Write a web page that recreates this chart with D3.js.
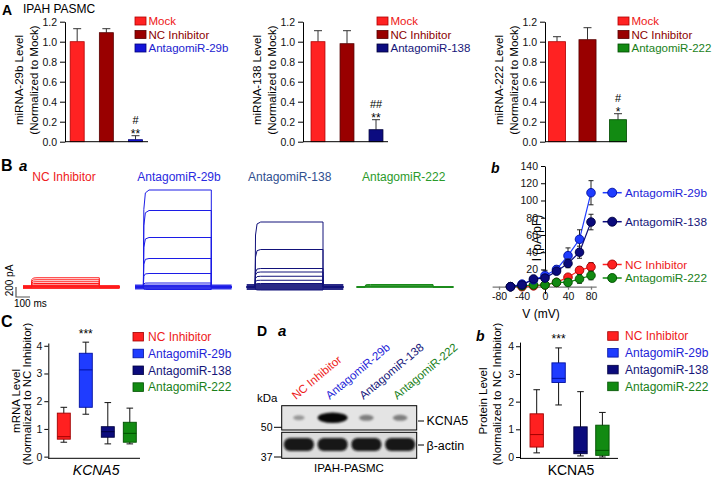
<!DOCTYPE html>
<html><head><meta charset="utf-8">
<script src="https://cdn.jsdelivr.net/npm/d3@7"></script>
<style>
body{margin:0;background:#fff;}
svg{display:block;font-family:Arial,"Liberation Sans",Helvetica,sans-serif;}
</style></head><body>
<svg id="fig" width="714" height="480"></svg>
<script>
// ================= DATA =================
// Panel A: miRNA levels (normalized to Mock)
const groupsA = ["Mock", "NC Inhibitor"];
const antagomirs = ["AntagomiR-29b", "AntagomiR-138", "AntagomiR-222"];
const mirnaNames = ["miRNA-29b", "miRNA-138", "miRNA-222"];
const meanA29b = [1.00, 1.09, 0.02];
const errA29b  = [0.13, 0.04, 0.04];
const meanA138 = [1.00, 0.98, 0.12];
const errA138  = [0.11, 0.13, 0.10];
const meanA222 = [1.00, 1.02, 0.22];
const errA222  = [0.05, 0.12, 0.06];
const sigA = [["#", "**"], ["##", "**"], ["#", "*"]];
const ticksA = [0, 0.2, 0.4, 0.6, 0.8, 1.0, 1.2];

// Panel B a: whole-cell K+ current traces, steady-state amplitude per step (pA)
const traceGroups = ["NC Inhibitor", "AntagomiR-29b", "AntagomiR-138", "AntagomiR-222"];
const traceNC  = [185, 145, 105, 70, 40, 15, 0];
const trace29b = [1940, 1530, 990, 570, 270, 80, 20, -50];
const trace138 = [1300, 750, 370, 300, 215, 135, 70, -60];
const trace222 = [50, 35, 20, 8, 0];
const protocolMs = [0, 60, 545, 690];

// Panel B b: I-V relationship
const voltages = [-60, -40, -20, 0, 20, 40, 60, 80];
const ivNC     = [0, 0, 1, 2, 5, 11, 19, 23];
const ivNCErr  = [0, 0, 1, 1, 2, 3, 4, 5];
const iv222    = [0, 1, 2, 2, 5, 5, 9, 13];
const iv222Err = [0, 1, 1, 1, 2, 4, 5, 5];
const iv29b    = [0, 3, 8, 13, 20, 36, 55, 109];
const iv29bErr = [0, 2, 3, 6, 4, 9, 11, 14];
const iv138    = [0, 2, 9, 10, 18, 27, 40, 75];
const iv138Err = [0, 1, 3, 4, 3, 5, 7, 9];
const ivYTicks = [20, 40, 60, 80, 100, 120, 140];
const ivXTicks = [-80, -40, 0, 40, 80];

// Panel C: KCNA5 mRNA (min, q1, median, q3, max)
const mrnaNC   = [0.52, 0.63, 0.72, 1.57, 1.78];
const mrna29b  = [1.53, 1.78, 3.13, 3.73, 4.13];
const mrna138  = [0.46, 0.70, 0.90, 1.08, 1.95];
const mrna222  = [0.46, 0.52, 0.84, 1.24, 1.75];
// Panel D b: KCNA5 protein (min, q1, median, q3, max)
const protNC   = [0.15, 0.36, 0.81, 1.56, 2.43];
const prot29b  = [1.88, 2.69, 2.84, 3.40, 3.94];
const prot138  = [0.04, 0.12, 0.19, 1.09, 2.36];
const prot222  = [0.00, 0.06, 0.24, 1.15, 1.61];
const boxTicks = [0, 1, 2, 3, 4];

// Panel D a: western blot relative band signal
const kcna5Signal = [0.15, 1.0, 0.3, 0.3];
const actinSignal = [1, 1, 1, 1];
const kDaMarkers = [50, 37];

// ================= STYLE =================
const FONT = 'Arial, "Liberation Sans", Helvetica, sans-serif';
const fillA = {"Mock":"#ff2222","NC Inhibitor":"#990000","AntagomiR-29b":"#1414d8","AntagomiR-138":"#0c0c80","AntagomiR-222":"#128a12"};
const strokeA = {"Mock":"#b00000","NC Inhibitor":"#550000","AntagomiR-29b":"#00007a","AntagomiR-138":"#00003a","AntagomiR-222":"#004a00"};
const textA = {"Mock":"#ee1515","NC Inhibitor":"#8b0000","AntagomiR-29b":"#2222d0","AntagomiR-138":"#16167a","AntagomiR-222":"#1a7f1a"};
const fillG = {"NC Inhibitor":"#ff2020","AntagomiR-29b":"#1f3cff","AntagomiR-138":"#0b0b7c","AntagomiR-222":"#128a12"};
const strokeG = {"NC Inhibitor":"#a00000","AntagomiR-29b":"#0010a0","AntagomiR-138":"#000040","AntagomiR-222":"#005000"};
const textG = {"NC Inhibitor":"#ee1a1a","AntagomiR-29b":"#2424d8","AntagomiR-138":"#16167a","AntagomiR-222":"#1a7f1a"};
const titleB = {"NC Inhibitor":"#ee2020","AntagomiR-29b":"#2a2ae0","AntagomiR-138":"#2f4f8f","AntagomiR-222":"#2a9a2a"};
const traceCol = {"NC Inhibitor":"#ff1a1a","AntagomiR-29b":"#1c1ce6","AntagomiR-138":"#12127a","AntagomiR-222":"#1a8a1a"};

const svg = d3.select("#fig");
svg.append("defs").append("filter").attr("id","blur")
  .attr("x","-50%").attr("y","-100%").attr("width","200%").attr("height","300%")
  .append("feGaussianBlur").attr("stdDeviation", 1.3);

function txt(g, x, y, s, o = {}) {
  const t = g.append("text").attr("x", x).attr("y", y).text(s)
    .attr("font-size", o.size || 12).attr("fill", o.fill || "#000").attr("font-family", FONT);
  if (o.weight) t.attr("font-weight", o.weight);
  if (o.style) t.attr("font-style", o.style);
  if (o.anchor) t.attr("text-anchor", o.anchor);
  if (o.dy) t.attr("dy", o.dy);
  if (o.rotate !== undefined) t.attr("transform", `rotate(${o.rotate},${x},${y})`);
  return t;
}
function styleAxis(a, size) {
  a.selectAll("text").attr("font-size", size).attr("font-family", FONT).attr("fill", "#111");
  a.selectAll("line,path").attr("stroke", "#000");
}

// ================= PANEL A =================
txt(svg, 2, 14.5, "A", {size: 14, weight: "bold"});
txt(svg, 23, 13, "IPAH PASMC", {size: 12});
const yA = d3.scaleLinear().domain([0, 1.2]).range([141.7, 21.7]);
const panelsA = [
  {mirna: mirnaNames[0], means: meanA29b, errs: errA29b, ant: antagomirs[0], sig: sigA[0], ax: 65,  xr: [62.6, 150.1], pad: 0.52, xEnd: 148, legX: 135},
  {mirna: mirnaNames[1], means: meanA138, errs: errA138, ant: antagomirs[1], sig: sigA[1], ax: 303, xr: [303.5, 390.5], pad: 0.52, xEnd: 388, legX: 377},
  {mirna: mirnaNames[2], means: meanA222, errs: errA222, ant: antagomirs[2], sig: sigA[2], ax: 545, xr: [541.75, 633.25], pad: 0.44, xEnd: 627, legX: 618}
];
panelsA.forEach(p => {
  const cats = [groupsA[0], groupsA[1], p.ant];
  const x = d3.scaleBand().domain(cats).range(p.xr).paddingInner(p.pad).paddingOuter(p.pad / 2);
  const g = svg.append("g");
  const cx = d => x(d) + x.bandwidth() / 2;
  cats.forEach((c, i) => {
    const top = yA(p.means[i] + p.errs[i]);
    g.append("line").attr("x1", cx(c)).attr("x2", cx(c)).attr("y1", yA(p.means[i])).attr("y2", top).attr("stroke", "#333");
    g.append("line").attr("x1", cx(c) - 4).attr("x2", cx(c) + 4).attr("y1", top).attr("y2", top).attr("stroke", "#333");
  });
  g.selectAll("rect.bar").data(cats).join("rect").attr("class", "bar")
    .attr("x", d => x(d)).attr("width", x.bandwidth())
    .attr("y", (d, i) => yA(p.means[i])).attr("height", (d, i) => yA(0) - yA(p.means[i]))
    .attr("fill", d => fillA[d]).attr("stroke", d => strokeA[d]).attr("stroke-width", 0.8);
  const errTop = yA(p.means[2] + p.errs[2]);
  txt(g, cx(p.ant), errTop - 12, p.sig[0], {size: 11, anchor: "middle"});
  txt(g, cx(p.ant), errTop + 2.5, p.sig[1], {size: 12, anchor: "middle"});
  const ya = g.append("g").attr("transform", `translate(${p.ax},0)`)
    .call(d3.axisLeft(yA).tickValues(ticksA).tickFormat(d3.format(".1f")).tickSize(5).tickSizeOuter(0).tickPadding(3));
  styleAxis(ya, 10.5);
  g.append("line").attr("x1", p.ax).attr("x2", p.xEnd).attr("y1", yA(0)).attr("y2", yA(0)).attr("stroke", "#000");
  txt(g, p.ax - 42.5, 80, p.mirna + " Level", {size: 11.5, anchor: "middle", rotate: -90});
  txt(g, p.ax - 27.5, 80, "(Normalized to Mock)", {size: 11.5, anchor: "middle", rotate: -90});
  cats.forEach((c, i) => {
    const yc = 21 + i * 13.5;
    g.append("rect").attr("x", p.legX).attr("y", yc - 4).attr("width", 11).attr("height", 8)
      .attr("fill", fillA[c]).attr("stroke", strokeA[c]).attr("stroke-width", 0.8);
    txt(g, p.legX + 13.5, yc + 4.2, c, {size: 11.5, fill: textA[c]});
  });
});

// ================= PANEL B a =================
txt(svg, 1, 170.5, "B", {size: 16, weight: "bold"});
txt(svg, 19, 170.5, "a", {size: 15, weight: "bold", style: "italic"});
const traceSets = [traceNC, trace29b, trace138, trace222];
const traceX0 = [23, 135, 246.7, 356.7];
const titleX = [64, 179, 289.7, 403.7];
const baseW = [4, 5, 6, 1.6];
const yTr = d3.scaleLinear().domain([0, 2000]).range([287, 187]);
traceGroups.forEach((grp, k) => {
  const g = svg.append("g");
  const tx = d3.scaleLinear().domain([protocolMs[0], protocolMs[3]]).range([traceX0[k], traceX0[k] + 96.6]);
  const line = d3.line().x(d => tx(d[0])).y(d => yTr(d[1]));
  g.append("path").attr("d", line([[protocolMs[0], 0], [protocolMs[3], 0]]))
    .attr("stroke", traceCol[grp]).attr("stroke-width", baseW[k]).attr("fill", "none").attr("opacity", 0.9);
  traceSets[k].forEach(L => {
    const on = protocolMs[1], off = protocolMs[2];
    const pts = [[protocolMs[0], 0], [on, 0], [on + 3, L * 0.8], [on + 14, L * 0.97], [on + 40, L], [off, L], [off, 0], [protocolMs[3], 0]];
    g.append("path").attr("d", line(pts)).attr("stroke", traceCol[grp]).attr("stroke-width", 1).attr("fill", "none");
  });
  txt(g, titleX[k], 180.5, grp, {size: 12, anchor: "middle", fill: titleB[grp]});
});
{
  const tsb = d3.scaleLinear().domain([0, 690]).range([16, 16 + 96.6]);
  const sb = svg.append("g");
  sb.append("path").attr("d", `M${tsb(0)},${yTr(0)}V${yTr(-200)}H${tsb(100)}`).attr("stroke", "#555").attr("stroke-width", 1.2).attr("fill", "none");
  txt(sb, 12.8, 280.5, "200 pA", {size: 10, anchor: "middle", rotate: -90});
  txt(sb, 14, 307, "100 ms", {size: 10});
}

// ================= PANEL B b (I-V) =================
txt(svg, 491, 172.5, "b", {size: 14, weight: "bold", style: "italic"});
const yIV = d3.scaleLinear().domain([-8, 140]).range([293.6, 166]);
const xIV = d3.scaleLinear().domain([-80, 80]).range([499, 591]);
{
  const g = svg.append("g");
  const xAxS = d3.scaleLinear().domain([-92, 89]).range([xIV(-92), xIV(89)]);
  const xa = g.append("g").attr("transform", `translate(0,${yIV(0)})`)
    .call(d3.axisBottom(xAxS).tickValues(ivXTicks).tickFormat(d => String(d)).tickSize(3).tickSizeOuter(0).tickPadding(2.5));
  styleAxis(xa, 10.5);
  xa.selectAll("line,path").attr("stroke", "#777").attr("stroke-width", 1.3);
  const ya = g.append("g").attr("transform", `translate(${xIV(0)},0)`)
    .call(d3.axisLeft(yIV).tickValues(ivYTicks).tickSize(4).tickSizeOuter(0).tickPadding(3));
  styleAxis(ya, 10.5);
  txt(g, 541, 238, "I (pA/pF)", {size: 12, anchor: "middle", rotate: -90});
  txt(g, 541, 318, "V (mV)", {size: 12, anchor: "middle"});

  const ivSeries = [
    {name: "NC Inhibitor", v: ivNC, e: ivNCErr},
    {name: "AntagomiR-222", v: iv222, e: iv222Err},
    {name: "AntagomiR-29b", v: iv29b, e: iv29bErr},
    {name: "AntagomiR-138", v: iv138, e: iv138Err}
  ];
  const line = d3.line().x(d => xIV(d[0])).y(d => yIV(d[1]));
  ivSeries.forEach(s => {
    const pts = voltages.map((V, i) => [V, s.v[i], s.e[i]]);
    const sg = g.append("g");
    sg.append("path").attr("d", line(pts)).attr("stroke", fillG[s.name]).attr("stroke-width", 1.2).attr("fill", "none");
    pts.forEach(p => {
      if (p[2] > 0) {
        const x = xIV(p[0]);
        [p[1] + p[2], p[1] - p[2]].forEach(e => {
          sg.append("line").attr("x1", x).attr("x2", x).attr("y1", yIV(p[1])).attr("y2", yIV(e)).attr("stroke", "#222");
          sg.append("line").attr("x1", x - 2.5).attr("x2", x + 2.5).attr("y1", yIV(e)).attr("y2", yIV(e)).attr("stroke", "#222");
        });
      }
    });
    sg.selectAll("circle").data(pts).join("circle")
      .attr("cx", d => xIV(d[0])).attr("cy", d => yIV(d[1])).attr("r", 4.3)
      .attr("fill", fillG[s.name]).attr("stroke", strokeG[s.name]).attr("stroke-width", 0.9);
  });
  const legY = {"AntagomiR-29b": 192.7, "AntagomiR-138": 221.7, "NC Inhibitor": 264.5, "AntagomiR-222": 278};
  Object.keys(legY).forEach(n => {
    const yy = legY[n];
    g.append("line").attr("x1", 602.7).attr("x2", 621.7).attr("y1", yy).attr("y2", yy).attr("stroke", fillG[n]).attr("stroke-width", 1.5);
    g.append("circle").attr("cx", 612.2).attr("cy", yy).attr("r", 4.5).attr("fill", fillG[n]).attr("stroke", strokeG[n]).attr("stroke-width", 0.9);
    txt(g, 625, yy + 4.1, n, {size: 11.8, fill: textG[n]});
  });
}

// ================= BOX PANELS (C, D b) =================
function boxPanel(cfg) {
  const g = svg.append("g");
  const y = d3.scaleLinear().domain(cfg.ydom).range(cfg.yr);
  const x = d3.scaleBand().domain(traceGroups).range(cfg.xr).paddingInner(cfg.pad).paddingOuter(cfg.pad / 2);
  cfg.data.forEach((s, i) => {
    const grp = traceGroups[i];
    const cx = x(grp) + x.bandwidth() / 2;
    g.append("line").attr("x1", cx).attr("x2", cx).attr("y1", y(s[0])).attr("y2", y(s[4])).attr("stroke", "#111");
    [s[0], s[4]].forEach(v => g.append("line").attr("x1", cx - 3.3).attr("x2", cx + 3.3).attr("y1", y(v)).attr("y2", y(v)).attr("stroke", "#111"));
    g.append("rect").attr("x", x(grp)).attr("width", x.bandwidth()).attr("y", y(s[3])).attr("height", y(s[1]) - y(s[3]))
      .attr("fill", fillG[grp]).attr("stroke", strokeG[grp]).attr("stroke-width", 0.9);
    g.append("line").attr("x1", x(grp)).attr("x2", x(grp) + x.bandwidth()).attr("y1", y(s[2])).attr("y2", y(s[2])).attr("stroke", strokeG[grp]).attr("stroke-width", 1);
    if (i === 1) txt(g, cx, y(s[4]) - 4.5, "***", {size: 12, anchor: "middle"});
  });
  const ya = g.append("g").attr("transform", `translate(${cfg.ax},0)`)
    .call(d3.axisLeft(y).tickValues(boxTicks).tickFormat(d3.format("d")).tickSize(4).tickSizeOuter(0).tickPadding(2));
  styleAxis(ya, 10.5);
  g.append("line").attr("x1", cfg.ax).attr("x2", cfg.xEnd).attr("y1", y(cfg.ydom[0])).attr("y2", y(cfg.ydom[0])).attr("stroke", "#000");
  txt(g, cfg.lab1X, 401, cfg.lab1, {size: 11.5, anchor: "middle", rotate: -90});
  txt(g, cfg.lab2X, 394, "(Normalized to NC Inhibitor)", {size: 11.5, anchor: "middle", rotate: -90});
  txt(g, (cfg.ax + cfg.xEnd) / 2 + 2, 475, "KCNA5", {size: 14, anchor: "middle", style: cfg.italic ? "italic" : null});
  traceGroups.forEach((grp, i) => {
    const yc = cfg.legY + i * 16.8;
    g.append("rect").attr("x", cfg.legX).attr("y", yc - 4.3).attr("width", 10.5).attr("height", 8.6)
      .attr("fill", fillG[grp]).attr("stroke", strokeG[grp]).attr("stroke-width", 0.8);
    txt(g, cfg.legX + cfg.legGap, yc + 4.3, grp, {size: 12, fill: textG[grp]});
  });
}
txt(svg, 1, 326.5, "C", {size: 16, weight: "bold"});
boxPanel({data: [mrnaNC, mrna29b, mrna138, mrna222], ydom: [-0.06, 4.1], yr: [458.3, 343], xr: [52.8, 140.8], pad: 0.41,
  ax: 48.3, xEnd: 140, lab1: "mRNA Level", lab1X: 20, lab2X: 31, italic: true, legX: 133, legY: 336.7, legGap: 15});
txt(svg, 476, 340.5, "b", {size: 14, weight: "bold", style: "italic"});
boxPanel({data: [protNC, prot29b, prot138, prot222], ydom: [-0.05, 4.15], yr: [458.4, 342.1], xr: [525.75, 613.35], pad: 0.39,
  ax: 520, xEnd: 618, lab1: "Protein Level", lab1X: 486.5, lab2X: 501, italic: false, legX: 607.7, legY: 336, legGap: 17.3});

// ================= PANEL D a (western blot) =================
txt(svg, 257, 336, "D", {size: 14, weight: "bold"});
txt(svg, 278, 336, "a", {size: 15, weight: "bold", style: "italic"});
{
  const g = svg.append("g");
  const lane = d3.scaleBand().domain(traceGroups).range([282, 417]).paddingInner(0.08).paddingOuter(0.04);
  const topBox = {y: 405.7, h: 24.3}, botBox = {y: 432.3, h: 26};
  g.append("rect").attr("x", 281.7).attr("y", topBox.y).attr("width", 135).attr("height", topBox.h).attr("fill", "#e4e4e4");
  g.append("rect").attr("x", 281.7).attr("y", botBox.y).attr("width", 135).attr("height", botBox.h).attr("fill", "#dcdcdc");
  traceGroups.forEach((grp, i) => {
    const c = lane(grp) + lane.bandwidth() / 2;
    const s = kcna5Signal[i];
    g.append("ellipse").attr("cx", c).attr("cy", 417.8).attr("rx", 4 + 11 * s).attr("ry", 2 + 3.3 * s)
      .attr("fill", "#000").attr("opacity", 0.22 + 0.75 * s).attr("filter", "url(#blur)");
    const a = actinSignal[i];
    g.append("rect").attr("x", lane(grp) + 0.5).attr("width", lane.bandwidth() - 1).attr("y", 444.5 - 6.5 * a).attr("height", 13 * a)
      .attr("rx", 6).attr("fill", "#111").attr("opacity", 0.95).attr("filter", "url(#blur)");
    txt(g, c - 3, 400, grp, {size: 11.5, fill: textG[grp], rotate: -40});
  });
  g.append("rect").attr("x", 281.7).attr("y", topBox.y).attr("width", 135).attr("height", topBox.h).attr("fill", "none").attr("stroke", "#000");
  g.append("rect").attr("x", 281.7).attr("y", botBox.y).attr("width", 135).attr("height", botBox.h).attr("fill", "none").attr("stroke", "#000");
  txt(g, 257, 401.7, "kDa", {size: 11.5});
  const mkY = {50: 427.3, 37: 457};
  kDaMarkers.forEach(k => {
    g.append("line").attr("x1", 274).attr("x2", 281.7).attr("y1", mkY[k]).attr("y2", mkY[k]).attr("stroke", "#000");
    txt(g, 272.5, mkY[k] + 3.7, String(k), {size: 10.5, anchor: "end"});
  });
  g.append("line").attr("x1", 418).attr("x2", 424).attr("y1", 421).attr("y2", 421).attr("stroke", "#000");
  txt(g, 426.5, 425, "KCNA5", {size: 12.5});
  g.append("line").attr("x1", 418).attr("x2", 424).attr("y1", 445).attr("y2", 445).attr("stroke", "#000");
  txt(g, 426.5, 449.5, "β-actin", {size: 12.5});
  txt(g, 349, 472.3, "IPAH-PASMC", {size: 11.5, anchor: "middle"});
}
</script>
</body></html>
